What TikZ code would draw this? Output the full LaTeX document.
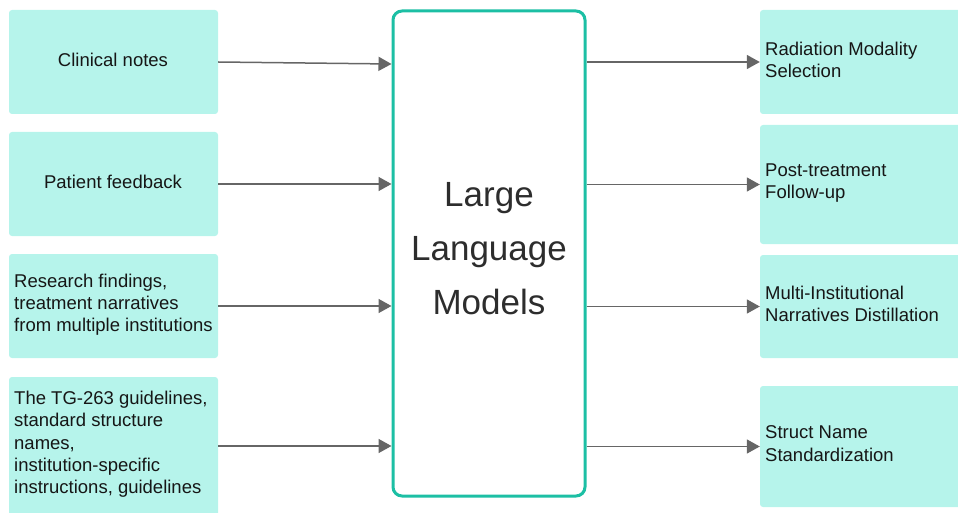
\documentclass[tikz,border=0pt]{standalone}
\usepackage{fontspec}
\setmainfont{Liberation Sans}
\usetikzlibrary{arrows.meta}
\definecolor{boxfill}{HTML}{B6F4EB}
\definecolor{llmteal}{HTML}{1CBFA4}
\definecolor{arrowgray}{HTML}{666666}
\definecolor{txt}{HTML}{161616}
\begin{document}
\begin{tikzpicture}[x=1pt,y=-1pt,
  inbox/.style={fill=boxfill, rounded corners=3pt, minimum width=209pt, inner sep=0pt},
  outbox/.style={fill=boxfill, rounded corners=3pt, minimum width=205pt, inner sep=0pt},
  lbl/.style={font=\fontsize{18.5}{22.3}\selectfont, text=txt, inner sep=0pt, align=left},
  biglbl/.style={font=\fontsize{35}{54}\selectfont, text=txt!90!white, inner sep=0pt, align=center},
  llmbox/.style={draw=llmteal, line width=3pt, rounded corners=9pt, minimum width=192pt, minimum height=485pt, inner sep=0pt},
  arr/.style={draw=arrowgray, line width=1.5pt, -{Triangle[length=13pt,width=14pt]}}]
\useasboundingbox (0,0) rectangle (958,513);
\clip (0,0) rectangle (958,513);
% left boxes
\node[inbox, minimum height=104pt] (l1) at (113.5,62) {};
\node[inbox, minimum height=104pt] (l2) at (113.5,184) {};
\node[inbox, minimum height=104pt] (l3) at (113.5,306) {};
\node[inbox, minimum height=143pt] (l4) at (113.5,448.5) {};
% right boxes
\node[outbox, minimum height=104pt] (r1) at (862.5,62) {};
\node[outbox, minimum height=119pt] (r2) at (862.5,184.5) {};
\node[outbox, minimum height=103pt] (r3) at (862.5,306.5) {};
\node[outbox, minimum height=121pt] (r4) at (862.5,446.5) {};
% central box
\node[llmbox] (llm) at (489,253.5) {};
\node[biglbl] (llmtext) at (489,249) {Large\\Language\\Models};
% labels
\node[lbl] (tl1) at (113,60) {Clinical notes};
\node[lbl] (tl2) at (113,182) {Patient feedback};
\node[lbl, anchor=west] (tl3) at (14,304.7) {Research findings,\\treatment narratives\\from multiple institutions};
\node[lbl, anchor=west] (tl4) at (14,444.5) {The TG-263 guidelines,\\standard structure\\names,\\institution-specific\\instructions, guidelines};
\node[lbl, anchor=west] (tr1) at (765,60) {Radiation Modality\\Selection};
\node[lbl, anchor=west] (tr2) at (765,183) {Post-treatment\\Follow-up};
\node[lbl, anchor=west] (tr3) at (765,304) {Multi-Institutional\\Narratives Distillation};
\node[lbl, anchor=west] (tr4) at (765,443.5) {Struct Name\\Standardization};
% arrows in
\draw[arr] (l1.east) -- ([yshift=-2pt]l1.east -| llm.west);
\draw[arr] (l2.east) -- (l2.east -| llm.west);
\draw[arr] (l3.east) -- (l3.east -| llm.west);
\draw[arr] ([yshift=2.5pt]l4.east) -- ([yshift=2.5pt]l4.east -| llm.west);
% arrows out
\draw[arr] (llm.east |- r1.west) -- (r1.west);
\draw[arr] (llm.east |- r2.west) -- (r2.west);
\draw[arr] (llm.east |- r3.west) -- (r3.west);
\draw[arr] (llm.east |- r4.west) -- (r4.west);
\end{tikzpicture}
\end{document}
